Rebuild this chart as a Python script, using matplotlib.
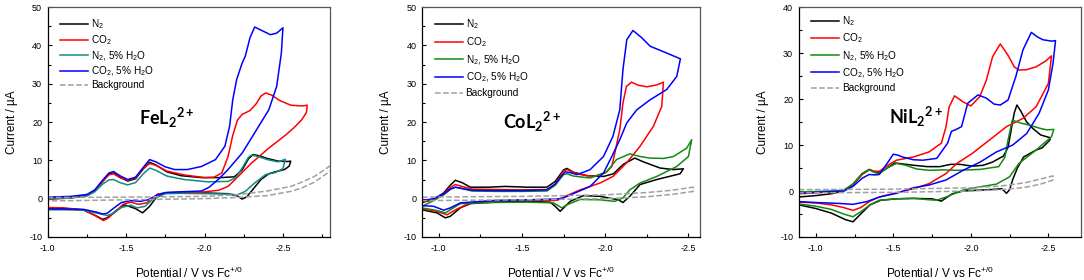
import numpy as np
import matplotlib
matplotlib.use("Agg")
import matplotlib.pyplot as plt
from matplotlib.ticker import MultipleLocator, FormatStrFormatter

plt.rcParams['font.family'] = ['Liberation Sans', 'DejaVu Sans']
plt.rcParams['mathtext.fontset'] = 'custom'
plt.rcParams['mathtext.rm'] = 'Liberation Sans'
plt.rcParams['mathtext.it'] = 'Liberation Sans:italic'
plt.rcParams['mathtext.bf'] = 'Lato:bold'
plt.rcParams['axes.unicode_minus'] = False

## ---------------- FeL2 2+ ----------------
fe_n2_v = [-1.00, -1.15, -1.25, -1.30, -1.35, -1.39, -1.42, -1.46, -1.51, -1.56, -1.61, -1.65, -1.69, -1.76,
           -1.85, -1.98, -2.10, -2.19, -2.24, -2.28, -2.31, -2.35, -2.40, -2.47, -2.53, -2.55,
           -2.54, -2.51, -2.45, -2.41, -2.36, -2.31, -2.27, -2.24, -2.21, -2.15, -2.00, -1.85, -1.75, -1.69,
           -1.65, -1.605, -1.56, -1.49, -1.44, -1.38, -1.35, -1.31, -1.23, -1.10, -1.00]
fe_n2_i = [0.2, 0.4, 0.9, 2.0, 4.5, 6.4, 6.7, 5.6, 4.6, 5.2, 7.8, 9.5, 8.8, 7.0,
           6.0, 5.5, 5.5, 5.7, 7.5, 10.4, 11.5, 11.2, 10.5, 9.8, 9.7, 9.8,
           8.5, 7.6, 7.0, 6.5, 5.0, 2.5, 0.5, -0.1, 0.7, 1.3, 1.5, 1.6, 1.5, 0.2,
           -2.0, -3.7, -2.6, -1.6, -3.0, -5.0, -5.4, -4.5, -3.0, -2.5, -2.4]

fe_co2_v = [-1.00, -1.15, -1.25, -1.30, -1.35, -1.39, -1.42, -1.46, -1.51, -1.56, -1.61, -1.65, -1.69, -1.76,
            -1.87, -2.00, -2.06, -2.11, -2.15, -2.18, -2.21, -2.24, -2.29, -2.33, -2.36, -2.39, -2.43, -2.48,
            -2.55, -2.62, -2.655,
            -2.65, -2.62, -2.57, -2.52, -2.41, -2.30, -2.195, -2.15, -2.09, -1.98, -1.77, -1.70, -1.68, -1.63,
            -1.58, -1.53, -1.48, -1.43, -1.38, -1.355, -1.31, -1.23, -1.10, -1.00]
fe_co2_i = [-0.2, 0.2, 0.8, 2.0, 4.5, 6.2, 6.5, 5.5, 4.8, 5.4, 7.8, 9.2, 8.7, 7.2,
            6.2, 5.5, 5.6, 6.7, 11.0, 16.5, 20.5, 22.0, 23.0, 24.8, 26.8, 27.6, 27.0, 25.6,
            24.4, 24.2, 24.4,
            22.5, 20.6, 18.5, 16.7, 13.2, 9.3, 5.0, 3.2, 2.2, 1.7, 1.6, 1.2, 0.4, -1.1,
            -1.5, -0.9, -1.5, -3.5, -5.2, -5.7, -4.6, -2.9, -2.4, -2.3]

fe_n2w_v = [-1.00, -1.15, -1.25, -1.30, -1.35, -1.39, -1.42, -1.46, -1.51, -1.56, -1.61, -1.65, -1.69, -1.76,
            -1.87, -2.02, -2.15, -2.20, -2.24, -2.28, -2.30, -2.35, -2.40, -2.47, -2.515,
            -2.50, -2.45, -2.39, -2.32, -2.26, -2.21, -2.15, -2.00, -1.85, -1.75, -1.68, -1.62, -1.57, -1.53,
            -1.47, -1.42, -1.38, -1.34, -1.23, -1.10, -1.00]
fe_n2w_i = [0.0, 0.2, 0.7, 1.8, 3.8, 4.9, 5.0, 4.2, 3.6, 4.2, 6.5, 8.0, 7.4, 5.9,
            5.0, 4.4, 4.5, 5.5, 8.0, 10.8, 11.4, 10.9, 10.2, 9.6, 10.3,
            7.8, 6.8, 6.3, 4.1, 1.9, 1.0, 1.2, 1.3, 1.4, 1.3, 0.2, -2.0, -2.4, -1.7,
            -2.3, -3.8, -4.4, -4.0, -3.0, -2.9, -2.9]

fe_co2w_v = [-1.00, -1.15, -1.25, -1.30, -1.35, -1.39, -1.42, -1.46, -1.51, -1.56, -1.61, -1.65, -1.69, -1.75,
             -1.81, -1.89, -1.98, -2.07, -2.13, -2.16, -2.18, -2.205, -2.24, -2.26, -2.29, -2.32, -2.36, -2.42,
             -2.46, -2.50,
             -2.49, -2.46, -2.41, -2.32, -2.24, -2.15, -2.09, -2.03, -1.98, -1.85, -1.75, -1.69, -1.64, -1.59,
             -1.53, -1.47, -1.42, -1.38, -1.35, -1.31, -1.23, -1.10, -1.00]
fe_co2w_i = [0.4, 0.6, 1.1, 2.3, 4.8, 6.7, 7.1, 6.0, 5.0, 5.6, 8.2, 10.2, 9.6, 8.3,
             7.6, 7.6, 8.4, 10.2, 13.7, 18.9, 25.8, 31.1, 35.4, 37.2, 42.0, 44.8, 44.0, 42.8,
             43.2, 44.6,
             38.0, 29.3, 23.2, 17.2, 11.9, 7.6, 5.1, 3.0, 2.0, 1.8, 1.6, 0.8, -0.3, -0.7,
             -0.5, -1.0, -2.5, -3.8, -4.0, -3.5, -2.8, -2.7, -2.7]

fe_bg_v = [-1.00, -1.50, -2.00, -2.20, -2.40, -2.55, -2.62, -2.70, -2.76, -2.85,
           -2.85, -2.76, -2.70, -2.62, -2.55, -2.40, -2.20, -2.00, -1.50, -1.00]
fe_bg_i = [0.3, 0.4, 0.6, 1.0, 2.0, 3.2, 4.3, 5.8, 7.4, 10.0,
           8.6, 6.0, 4.3, 2.8, 1.9, 0.8, 0.3, 0.0, -0.3, -0.6]

## ---------------- CoL2 2+ ----------------
co_n2_v = [-0.90, -0.97, -1.03, -1.07, -1.10, -1.14, -1.19, -1.30, -1.40, -1.53, -1.65, -1.70, -1.75, -1.77,
           -1.81, -1.89, -1.99, -2.05, -2.11, -2.178, -2.23, -2.33, -2.41, -2.47,
           -2.45, -2.31, -2.21, -2.148, -2.107, -2.08, -1.97, -1.87, -1.79, -1.73, -1.70, -1.67, -1.53, -1.33,
           -1.19, -1.13, -1.07, -1.04, -0.99, -0.90]
co_n2_i = [-1.0, -0.2, 1.5, 3.5, 4.8, 4.2, 3.0, 3.0, 3.2, 3.0, 3.0, 4.5, 7.5, 7.9,
           6.9, 6.0, 5.8, 6.5, 9.0, 10.6, 9.6, 8.0, 7.6, 7.8,
           6.5, 5.0, 3.7, 0.6, -1.0, -0.3, 0.6, 0.8, -0.7, -3.3, -2.0, -0.9, -0.7, -0.9,
           -1.3, -2.4, -4.6, -5.0, -3.7, -2.9]

co_co2_v = [-0.90, -0.97, -1.03, -1.07, -1.10, -1.14, -1.20, -1.35, -1.50, -1.65, -1.70, -1.75, -1.77, -1.81,
            -1.85, -1.93, -2.00, -2.04, -2.058, -2.088, -2.107, -2.128, -2.158, -2.20, -2.25, -2.31, -2.35,
            -2.34, -2.29, -2.21, -2.128, -2.047, -1.97, -1.85, -1.77, -1.72, -1.69, -1.53, -1.33, -1.19, -1.11,
            -1.05, -0.99, -0.90]
co_co2_i = [-0.8, -0.2, 1.3, 2.9, 3.7, 3.2, 2.5, 2.4, 2.3, 2.4, 3.8, 7.2, 7.6, 6.9,
            6.3, 5.8, 6.7, 8.4, 11.9, 18.0, 25.0, 29.3, 30.4, 29.6, 29.2, 29.7, 30.4,
            24.1, 18.9, 13.7, 9.3, 5.8, 4.1, 2.3, 0.8, -0.3, -0.5, -0.3, -0.5, -1.1, -2.7,
            -4.2, -3.3, -2.7]

co_n2w_v = [-0.90, -0.97, -1.03, -1.07, -1.10, -1.14, -1.20, -1.35, -1.50, -1.65, -1.70, -1.75, -1.77, -1.81,
            -1.91, -2.01, -2.068, -2.148, -2.21, -2.27, -2.35, -2.41, -2.49, -2.52,
            -2.50, -2.43, -2.31, -2.21, -2.148, -2.107, -2.058, -1.97, -1.85, -1.77, -1.74, -1.69, -1.53, -1.33,
            -1.13, -1.07, -1.04, -0.99, -0.90]
co_n2w_i = [-2.0, -0.5, 1.0, 2.4, 3.0, 2.6, 2.0, 1.9, 1.9, 2.0, 3.5, 6.3, 6.5, 5.9,
            5.4, 7.0, 10.2, 11.7, 11.0, 10.6, 10.5, 11.0, 13.2, 15.4,
            11.0, 8.4, 5.8, 4.1, 2.3, 0.2, -0.7, -0.3, -0.2, -1.6, -2.4, -1.1, -0.9, -1.0,
            -1.3, -2.9, -3.7, -3.1, -2.4]

co_co2w_v = [-0.90, -0.97, -1.03, -1.07, -1.10, -1.14, -1.20, -1.35, -1.50, -1.65, -1.70, -1.73, -1.76, -1.79,
             -1.83, -1.87, -1.91, -1.99, -2.047, -2.088, -2.107, -2.13, -2.167, -2.22, -2.27, -2.37, -2.452,
             -2.43, -2.37, -2.27, -2.19, -2.13, -2.088, -2.04, -1.99, -1.91, -1.83, -1.75, -1.71, -1.53, -1.33,
             -1.13, -1.07, -1.03, -0.97, -0.90]
co_co2w_i = [-0.5, 0.0, 1.2, 2.5, 3.0, 2.7, 2.2, 2.1, 2.1, 2.3, 3.8, 5.5, 7.0, 6.8,
             6.3, 6.9, 7.6, 11.0, 16.3, 23.2, 33.7, 41.5, 43.9, 42.0, 39.8, 38.0, 36.5,
             31.9, 28.5, 25.8, 23.2, 19.8, 15.4, 11.0, 6.7, 3.2, 1.7, 0.2, -0.1, -0.3, -0.5,
             -1.1, -2.4, -3.0, -2.0, -1.8]

co_bg_v = [-0.90, -1.50, -2.00, -2.25, -2.40, -2.53,
           -2.53, -2.40, -2.25, -2.00, -1.50, -0.90]
co_bg_i = [0.4, 0.6, 1.0, 1.6, 2.2, 3.0,
           1.9, 1.1, 0.5, 0.0, -0.3, -0.5]

## ---------------- NiL2 2+ ----------------
ni_n2_v = [-0.89, -1.00, -1.10, -1.18, -1.24, -1.30, -1.345, -1.38, -1.41, -1.46, -1.51, -1.56, -1.63, -1.72,
           -1.80, -1.87, -1.93, -2.01, -2.08, -2.14, -2.21, -2.24, -2.26, -2.28, -2.297, -2.32, -2.36, -2.40,
           -2.45, -2.51,
           -2.51, -2.46, -2.42, -2.34, -2.30, -2.27, -2.25, -2.23, -2.20, -2.12, -2.06, -1.95, -1.88, -1.81,
           -1.75, -1.63, -1.52, -1.42, -1.35, -1.29, -1.24, -1.19, -1.10, -1.00, -0.89]
ni_n2_i = [-1.3, -1.0, -0.6, 0.0, 1.5, 3.8, 4.7, 4.2, 3.9, 5.0, 6.1, 5.9, 5.6, 5.3,
           5.3, 5.8, 5.8, 5.4, 5.6, 6.3, 7.6, 9.5, 13.3, 17.0, 18.7, 17.5, 15.0, 13.6,
           12.2, 11.6,
           11.1, 9.4, 8.9, 7.4, 5.0, 2.5, 0.3, -0.5, 0.5, 0.3, 0.2, 0.0, -0.6, -2.2,
           -1.7, -1.6, -1.7, -2.0, -3.0, -5.0, -6.7, -6.2, -4.8, -3.8, -3.0]

ni_co2_v = [-0.89, -1.00, -1.10, -1.18, -1.24, -1.30, -1.345, -1.38, -1.41, -1.46, -1.52, -1.63, -1.73, -1.81,
            -1.84, -1.86, -1.895, -1.95, -2.00, -2.057, -2.10, -2.14, -2.19, -2.24, -2.28, -2.31, -2.36, -2.42,
            -2.48, -2.52,
            -2.50, -2.42, -2.336, -2.23, -2.12, -2.01, -1.91, -1.84, -1.73, -1.63, -1.52, -1.41, -1.35, -1.29,
            -1.24, -1.18, -1.10, -1.00, -0.89]
ni_co2_i = [-0.6, -0.4, -0.2, 0.0, 1.3, 3.6, 4.6, 4.3, 4.3, 5.5, 6.7, 7.4, 8.5, 10.4,
            14.0, 18.3, 20.7, 19.4, 18.5, 20.5, 24.1, 29.2, 32.0, 29.5, 27.0, 26.3, 26.4, 27.0,
            28.2, 29.4,
            23.4, 18.3, 15.8, 14.0, 11.1, 8.2, 6.0, 3.8, 1.6, 0.5, -0.4, -1.3, -2.2, -3.6,
            -4.2, -3.6, -3.0, -2.6, -2.4]

ni_n2w_v = [-0.89, -1.00, -1.10, -1.18, -1.24, -1.30, -1.345, -1.38, -1.41, -1.46, -1.52, -1.58, -1.65, -1.73,
            -1.82, -1.91, -2.06, -2.18, -2.22, -2.24, -2.267, -2.32, -2.38, -2.45, -2.49, -2.535,
            -2.52, -2.42, -2.31, -2.25, -2.165, -2.057, -1.95, -1.84, -1.78, -1.73, -1.63, -1.52, -1.41, -1.35,
            -1.29, -1.24, -1.18, -1.10, -1.00, -0.89]
ni_n2w_i = [-0.2, -0.1, 0.0, 0.2, 1.5, 3.8, 4.6, 4.0, 3.8, 5.0, 6.0, 5.6, 4.8, 4.5,
            4.6, 4.5, 4.7, 5.3, 7.4, 11.1, 15.4, 14.8, 14.3, 13.6, 13.3, 13.4,
            11.8, 8.9, 6.0, 3.1, 1.5, 0.9, 0.2, -1.3, -2.0, -1.9, -1.6, -1.7, -2.0, -3.0,
            -4.5, -5.6, -5.0, -4.0, -3.3, -2.8]

ni_co2w_v = [-0.89, -1.00, -1.10, -1.18, -1.24, -1.30, -1.345, -1.38, -1.41, -1.46, -1.50, -1.53, -1.56, -1.63,
             -1.69, -1.78, -1.85, -1.875, -1.90, -1.94, -1.98, -2.046, -2.10, -2.15, -2.19, -2.24, -2.29, -2.336,
             -2.39, -2.43, -2.465, -2.52, -2.546,
             -2.53, -2.50, -2.44, -2.36, -2.27, -2.165, -2.06, -1.95, -1.84, -1.73, -1.63, -1.52, -1.41, -1.33,
             -1.24, -1.15, -1.00, -0.89]
ni_co2w_i = [-0.5, -0.3, -0.1, 0.0, 1.0, 2.8, 3.6, 3.5, 3.6, 6.0, 8.0, 7.8, 7.4, 6.8,
             6.7, 7.1, 10.4, 13.0, 13.3, 14.0, 19.1, 20.9, 20.2, 18.9, 18.7, 19.8, 24.9, 30.7,
             34.5, 33.5, 32.9, 32.6, 32.7,
             27.8, 22.0, 16.9, 12.5, 10.0, 8.5, 6.3, 4.5, 2.4, 1.3, 0.7, -0.5, -1.3, -2.3,
             -2.9, -2.7, -2.5, -2.3]

ni_bg_v = [-0.89, -1.50, -2.00, -2.20, -2.35, -2.45, -2.53,
           -2.53, -2.45, -2.35, -2.20, -2.00, -1.50, -0.89]
ni_bg_i = [0.3, 0.4, 0.7, 1.1, 1.8, 2.6, 3.3,
           2.4, 1.5, 0.8, 0.3, 0.0, -0.3, -0.4]

labels = ['N$_2$', 'CO$_2$', 'N$_2$, 5% H$_2$O', 'CO$_2$, 5% H$_2$O', 'Background']
c_black = '#000000'
c_red = '#ff0000'
c_blue = '#0000ff'
c_teal = '#0f8c82'
c_green = '#128a12'
c_bg = '#a0a0a0'


def draw_panel(ax, curves, wcolor, title, tx, ty, xlim, ylim, ytick, lspace, ltop):
    cols = [c_black, c_red, wcolor, c_blue]
    for (v, i), c, lab in zip(curves[:4], cols, labels[:4]):
        ax.plot(v, i, color=c, lw=1.1, label=lab)
    bv, bi = curves[4]
    ax.plot(bv, bi, color=c_bg, lw=1.1, ls='--', label=labels[4])
    ax.set_xlim(xlim)
    ax.set_ylim(ylim)
    ax.xaxis.set_major_locator(MultipleLocator(0.5))
    ax.xaxis.set_minor_locator(MultipleLocator(0.25))
    ax.xaxis.set_major_formatter(FormatStrFormatter('%.1f'))
    ax.yaxis.set_major_locator(MultipleLocator(ytick))
    ax.yaxis.set_minor_locator(MultipleLocator(ytick / 2))
    ax.tick_params(which='both', direction='in', labelsize=6.5, width=0.8)
    ax.tick_params(which='major', length=3)
    ax.tick_params(which='minor', length=2)
    ax.tick_params(axis='x', pad=5)
    ax.tick_params(axis='y', pad=4)
    for s in ['top', 'right']:
        ax.spines[s].set_color('#555555')
    for s in ax.spines.values():
        s.set_linewidth(0.9)
    ax.set_xlabel('Potential / V vs Fc$^{+/0}$', fontsize=8.5, labelpad=9)
    ax.set_ylabel('Current / \u00b5A', fontsize=8.5, labelpad=8)
    ax.text(tx, ty, title, transform=ax.transAxes, fontsize=13, fontweight='bold',
            family='Lato', ha='left', va='center')
    ax.legend(loc='upper left', bbox_to_anchor=(0.02, ltop), frameon=False, fontsize=7.2,
              handlelength=2.8, handletextpad=0.3, labelspacing=lspace, borderpad=0.2)


fig = plt.figure(figsize=(10.84, 2.8), dpi=100)
ax1 = fig.add_axes([0.044, 0.1536, 0.2604, 0.821])
ax2 = fig.add_axes([0.3893, 0.1536, 0.2565, 0.821])
ax3 = fig.add_axes([0.7368, 0.1536, 0.2604, 0.821])

draw_panel(ax1, [(fe_n2_v, fe_n2_i), (fe_co2_v, fe_co2_i), (fe_n2w_v, fe_n2w_i),
                 (fe_co2w_v, fe_co2w_i), (fe_bg_v, fe_bg_i)],
           c_teal, 'FeL$_\\mathbf{2}$$^\\mathbf{2+}$', 0.325, 0.52, (-1.0, -2.8), (-10, 50), 10, 0.2, 0.985)
draw_panel(ax2, [(co_n2_v, co_n2_i), (co_co2_v, co_co2_i), (co_n2w_v, co_n2w_i),
                 (co_co2w_v, co_co2w_i), (co_bg_v, co_bg_i)],
           c_green, 'CoL$_\\mathbf{2}$$^\\mathbf{2+}$', 0.29, 0.50, (-0.9, -2.57), (-10, 50), 10, 0.4, 0.985)
draw_panel(ax3, [(ni_n2_v, ni_n2_i), (ni_co2_v, ni_co2_i), (ni_n2w_v, ni_n2w_i),
                 (ni_co2w_v, ni_co2w_i), (ni_bg_v, ni_bg_i)],
           c_green, 'NiL$_\\mathbf{2}$$^\\mathbf{2+}$', 0.319, 0.523, (-0.89, -2.71), (-10, 40), 10, 0.36, 1.0)

fig.savefig('out.png', dpi=100)
